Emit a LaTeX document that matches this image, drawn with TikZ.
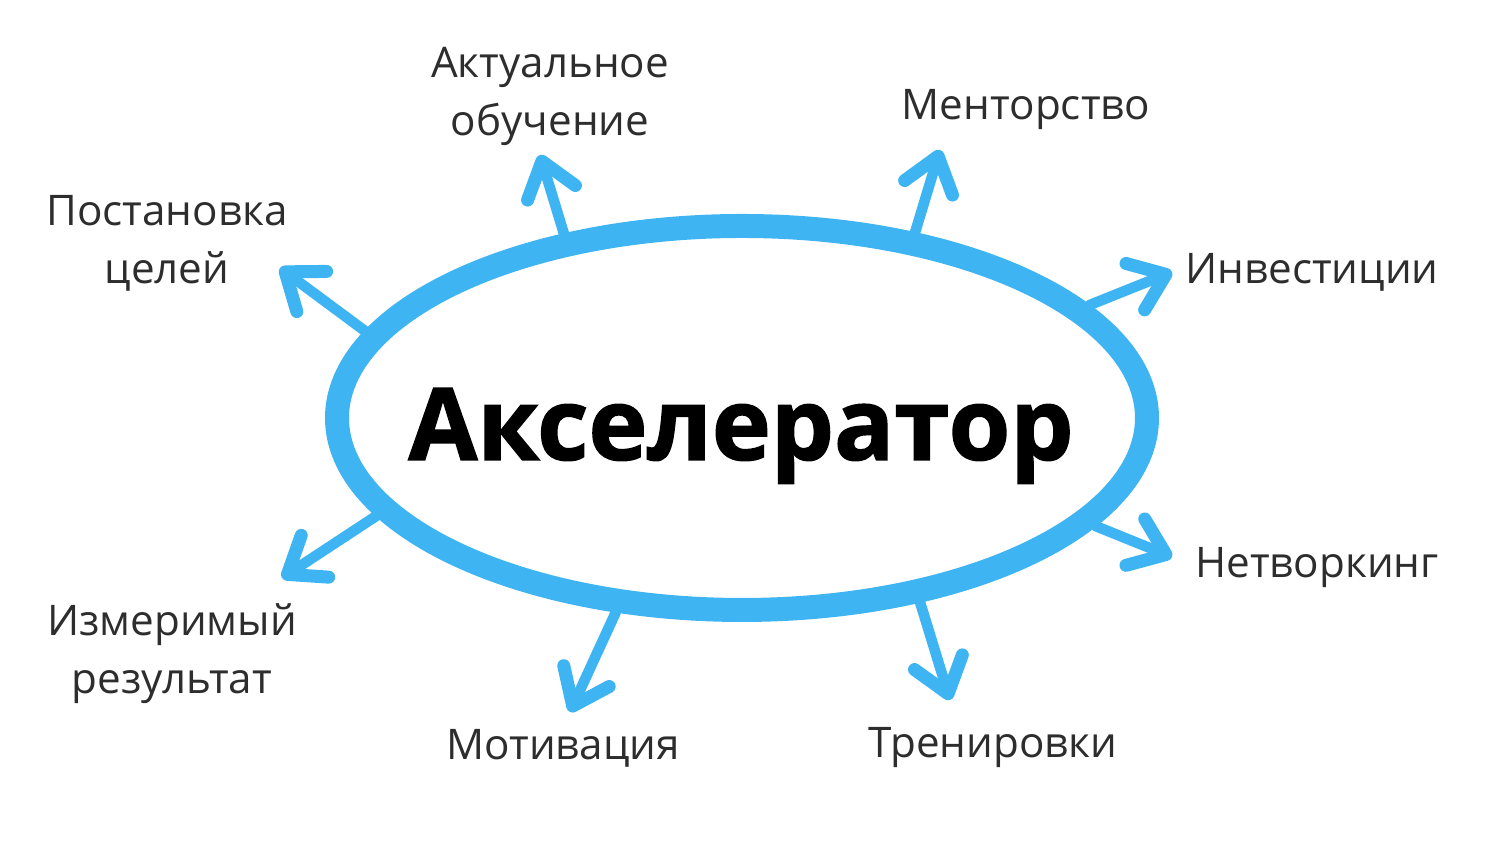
\documentclass[tikz,border=0pt]{standalone}
\usepackage{fontspec}
\setmainfont{Open Sans}
\newfontfamily\titlefont{Open Sans}[BoldFeatures={FakeBold=1.5}]
\usepackage{tikz}
\usetikzlibrary{shapes.geometric,arrows.meta}

\definecolor{accblue}{RGB}{62,180,242}
\definecolor{labelgray}{RGB}{45,45,45}

\tikzset{
    hub/.style={ellipse, draw=accblue, line width=0.24cm, minimum width=8.1cm,
        minimum height=3.84cm, inner sep=0pt},
    hubtext/.style={inner sep=0pt, font=\fontsize{28.4}{34}\titlefont\bfseries},
    spoke/.style={accblue, line width=0.105cm, line cap=round, line join=round,
        -{Straight Barb[length=0.33cm,width=0.5cm,line width=0.13cm,round]}},
    lbl/.style={text=labelgray, align=center, inner sep=0pt,
        font=\fontsize{12}{16.5}\selectfont}
}

\begin{document}
\begin{tikzpicture}
            \useasboundingbox (0,0) rectangle (15,8.44);
            \node[hub] (acc) at (7.42,4.26) {};
            \node[hubtext] (title) at (7.41,4.08) {Акселератор};
            % arrow tips
            \coordinate (tipLearn) at (5.40,6.89);
            \coordinate (tipMentor) at (9.40,6.94);
            \coordinate (tipInvest) at (11.72,5.72);
            \coordinate (tipNet) at (11.72,2.87);
            \coordinate (tipTrain) at (9.50,1.44);
            \coordinate (tipMotiv) at (5.70,1.32);
            \coordinate (tipResult) at (2.82,2.66);
            \coordinate (tipGoals) at (2.80,5.76);
            \draw[spoke] (acc.134) -- (tipLearn);
            \draw[spoke] (acc.47) -- (tipMentor);
            \draw[spoke] (acc.18) -- (tipInvest);
            \draw[spoke] (acc.-17) -- (tipNet);
            \draw[spoke] (acc.-46) -- (tipTrain);
            \draw[spoke] (acc.-123) -- (tipMotiv);
            \draw[spoke] (acc.-165) -- (tipResult);
            \draw[spoke] (acc.167) -- (tipGoals);
            % labels
            \node[lbl] (learn) at (5.50,7.48) {Актуальное\\обучение};
            \node[lbl] (mentor) at (10.26,7.34) {Менторство};
            \node[lbl] (invest) at (13.12,5.72) {Инвестиции};
            \node[lbl] (net) at (13.17,2.76) {Нетворкинг};
            \node[lbl] (train) at (9.93,0.96) {Тренировки};
            \node[lbl] (motiv) at (5.63,0.96) {Мотивация};
            \node[lbl] (result) at (1.72,1.90) {Измеримый\\результат};
            \node[lbl] (goals) at (1.67,6.01) {Постановка\\целей};
        \end{tikzpicture}
\end{document}
